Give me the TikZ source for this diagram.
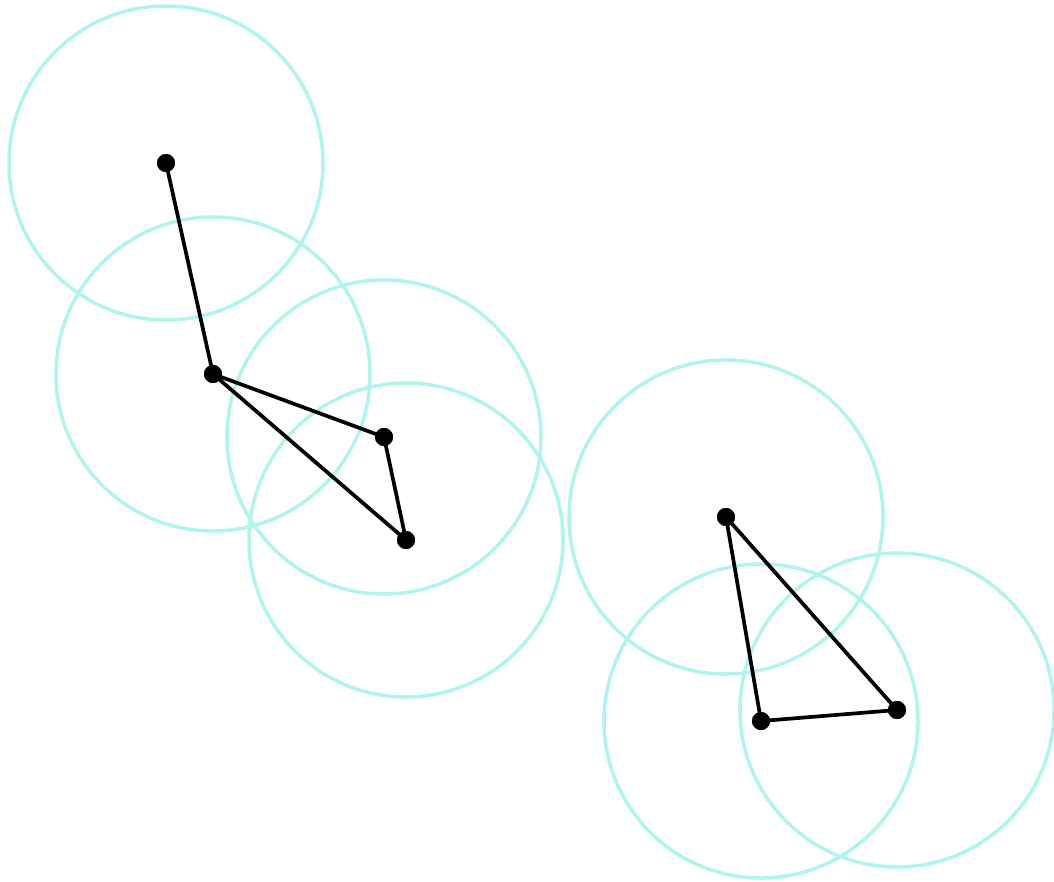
\documentclass[tikz,border=0pt]{standalone}
\begin{document}
\begin{tikzpicture}[x=1pt,y=-1pt,
  dot/.style={circle,fill=black,inner sep=0pt,minimum size=18pt},
  ring/.style={color={rgb,255:red,176;green,244;blue,238},line width=3.5pt},
  edge/.style={line width=3.7pt,black}]
\useasboundingbox (0,0) rectangle (1054,881);
\coordinate (a) at (166,163);
\coordinate (b) at (213,374);
\coordinate (c) at (384,437);
\coordinate (d) at (406,540);
\coordinate (e) at (726,517);
\coordinate (f) at (761,721);
\coordinate (g) at (897,710);
\foreach \p in {a,b,c,d,e,f,g} \draw[ring] (\p) circle (157);
\node[dot] (A) at (a) {};
\node[dot] (B) at (b) {};
\node[dot] (C) at (c) {};
\node[dot] (D) at (d) {};
\node[dot] (E) at (e) {};
\node[dot] (F) at (f) {};
\node[dot] (G) at (g) {};
\draw[edge] (A.center) -- (B.center);
\draw[edge] (B.center) -- (C.center);
\draw[edge] (B.center) -- (D.center);
\draw[edge] (C.center) -- (D.center);
\draw[edge] (E.center) -- (F.center);
\draw[edge] (E.center) -- (G.center);
\draw[edge] (F.center) -- (G.center);
\foreach \n in {A,B,C,D,E,F,G} \fill (\n) circle (9);
\end{tikzpicture}
\end{document}
